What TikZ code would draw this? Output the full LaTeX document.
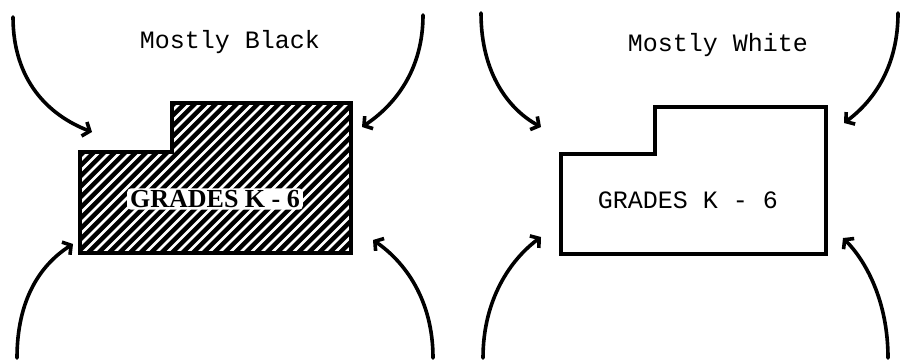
\documentclass[tikz,border=0pt]{standalone}
\usepackage{fontspec}
\setmainfont{Liberation Serif}
\setmonofont{Liberation Mono}
\usetikzlibrary{arrows.meta}
\begin{document}
\begin{tikzpicture}[x=1pt,y=-1pt,
  curvearrow/.style={line width=3.6pt,line cap=round,-{Straight Barb[length=6pt,width=15pt,line width=3.6pt]}},
  outline/.style={line width=3.8pt,line join=miter},
  monolabel/.style={font=\ttfamily\fontsize{25}{25}\selectfont,inner sep=0pt},
  gradesfont/.style={font=\bfseries\fontsize{26}{26}\selectfont,inner sep=0pt}]
\useasboundingbox (0,0) rectangle (901,361);
% ---------- left panel ----------
\fill[black] (80,152) -- (172,152) -- (172,103) -- (351,103) -- (351,253) -- (80,253) -- cycle;
\begin{scope}
  \clip (80,152) -- (172,152) -- (172,103) -- (351,103) -- (351,253) -- (80,253) -- cycle;
  \foreach \i in {-12,...,46} \draw[white,line width=2.8pt] (\i*10.5,262) -- ++(172,-172);
\end{scope}
\node[gradesfont,fill=white,inner xsep=3pt,inner ysep=2pt,rounded corners=4pt] (gl) at (215,199) {GRADES K - 6};
\draw[outline] (80,152) -- (172,152) -- (172,103) -- (351,103) -- (351,253) -- (80,253) -- cycle;
\node[monolabel] (tl) at (230,42) {Mostly Black};
\coordinate (a1s) at (13,17);  \coordinate (a1e) at (92,132);
\coordinate (a2s) at (423,15); \coordinate (a2e) at (362,127);
\coordinate (a3s) at (17,358); \coordinate (a3e) at (73,244);
\coordinate (a4s) at (433,358);\coordinate (a4e) at (373,240);
\draw[curvearrow] (a1s) .. controls (13,80) and (48,115) .. (a1e);
\draw[curvearrow] (a2s) .. controls (423,70) and (395,105) .. (a2e);
\draw[curvearrow] (a3s) .. controls (17,300) and (40,265) .. (a3e);
\draw[curvearrow] (a4s) .. controls (433,300) and (405,262) .. (a4e);
% ---------- right panel ----------
\draw[outline,line width=3.2pt] (561,154) -- (655,154) -- (655,107) -- (826,107) -- (826,254) -- (561,254) -- cycle;
\node[monolabel] (tr) at (718,45) {Mostly White};
\node[monolabel] (gr) at (688,200) {GRADES K - 6};
\coordinate (b1s) at (481,13);  \coordinate (b1e) at (541,127);
\coordinate (b2s) at (898,13);  \coordinate (b2e) at (844,123);
\coordinate (b3s) at (483,358); \coordinate (b3e) at (541,237);
\coordinate (b4s) at (888,358); \coordinate (b4e) at (843,238);
\draw[curvearrow] (b1s) .. controls (481,75) and (510,110) .. (b1e);
\draw[curvearrow] (b2s) .. controls (898,65) and (875,100) .. (b2e);
\draw[curvearrow] (b3s) .. controls (483,300) and (510,260) .. (b3e);
\draw[curvearrow] (b4s) .. controls (888,300) and (865,260) .. (b4e);
\end{tikzpicture}
\end{document}
